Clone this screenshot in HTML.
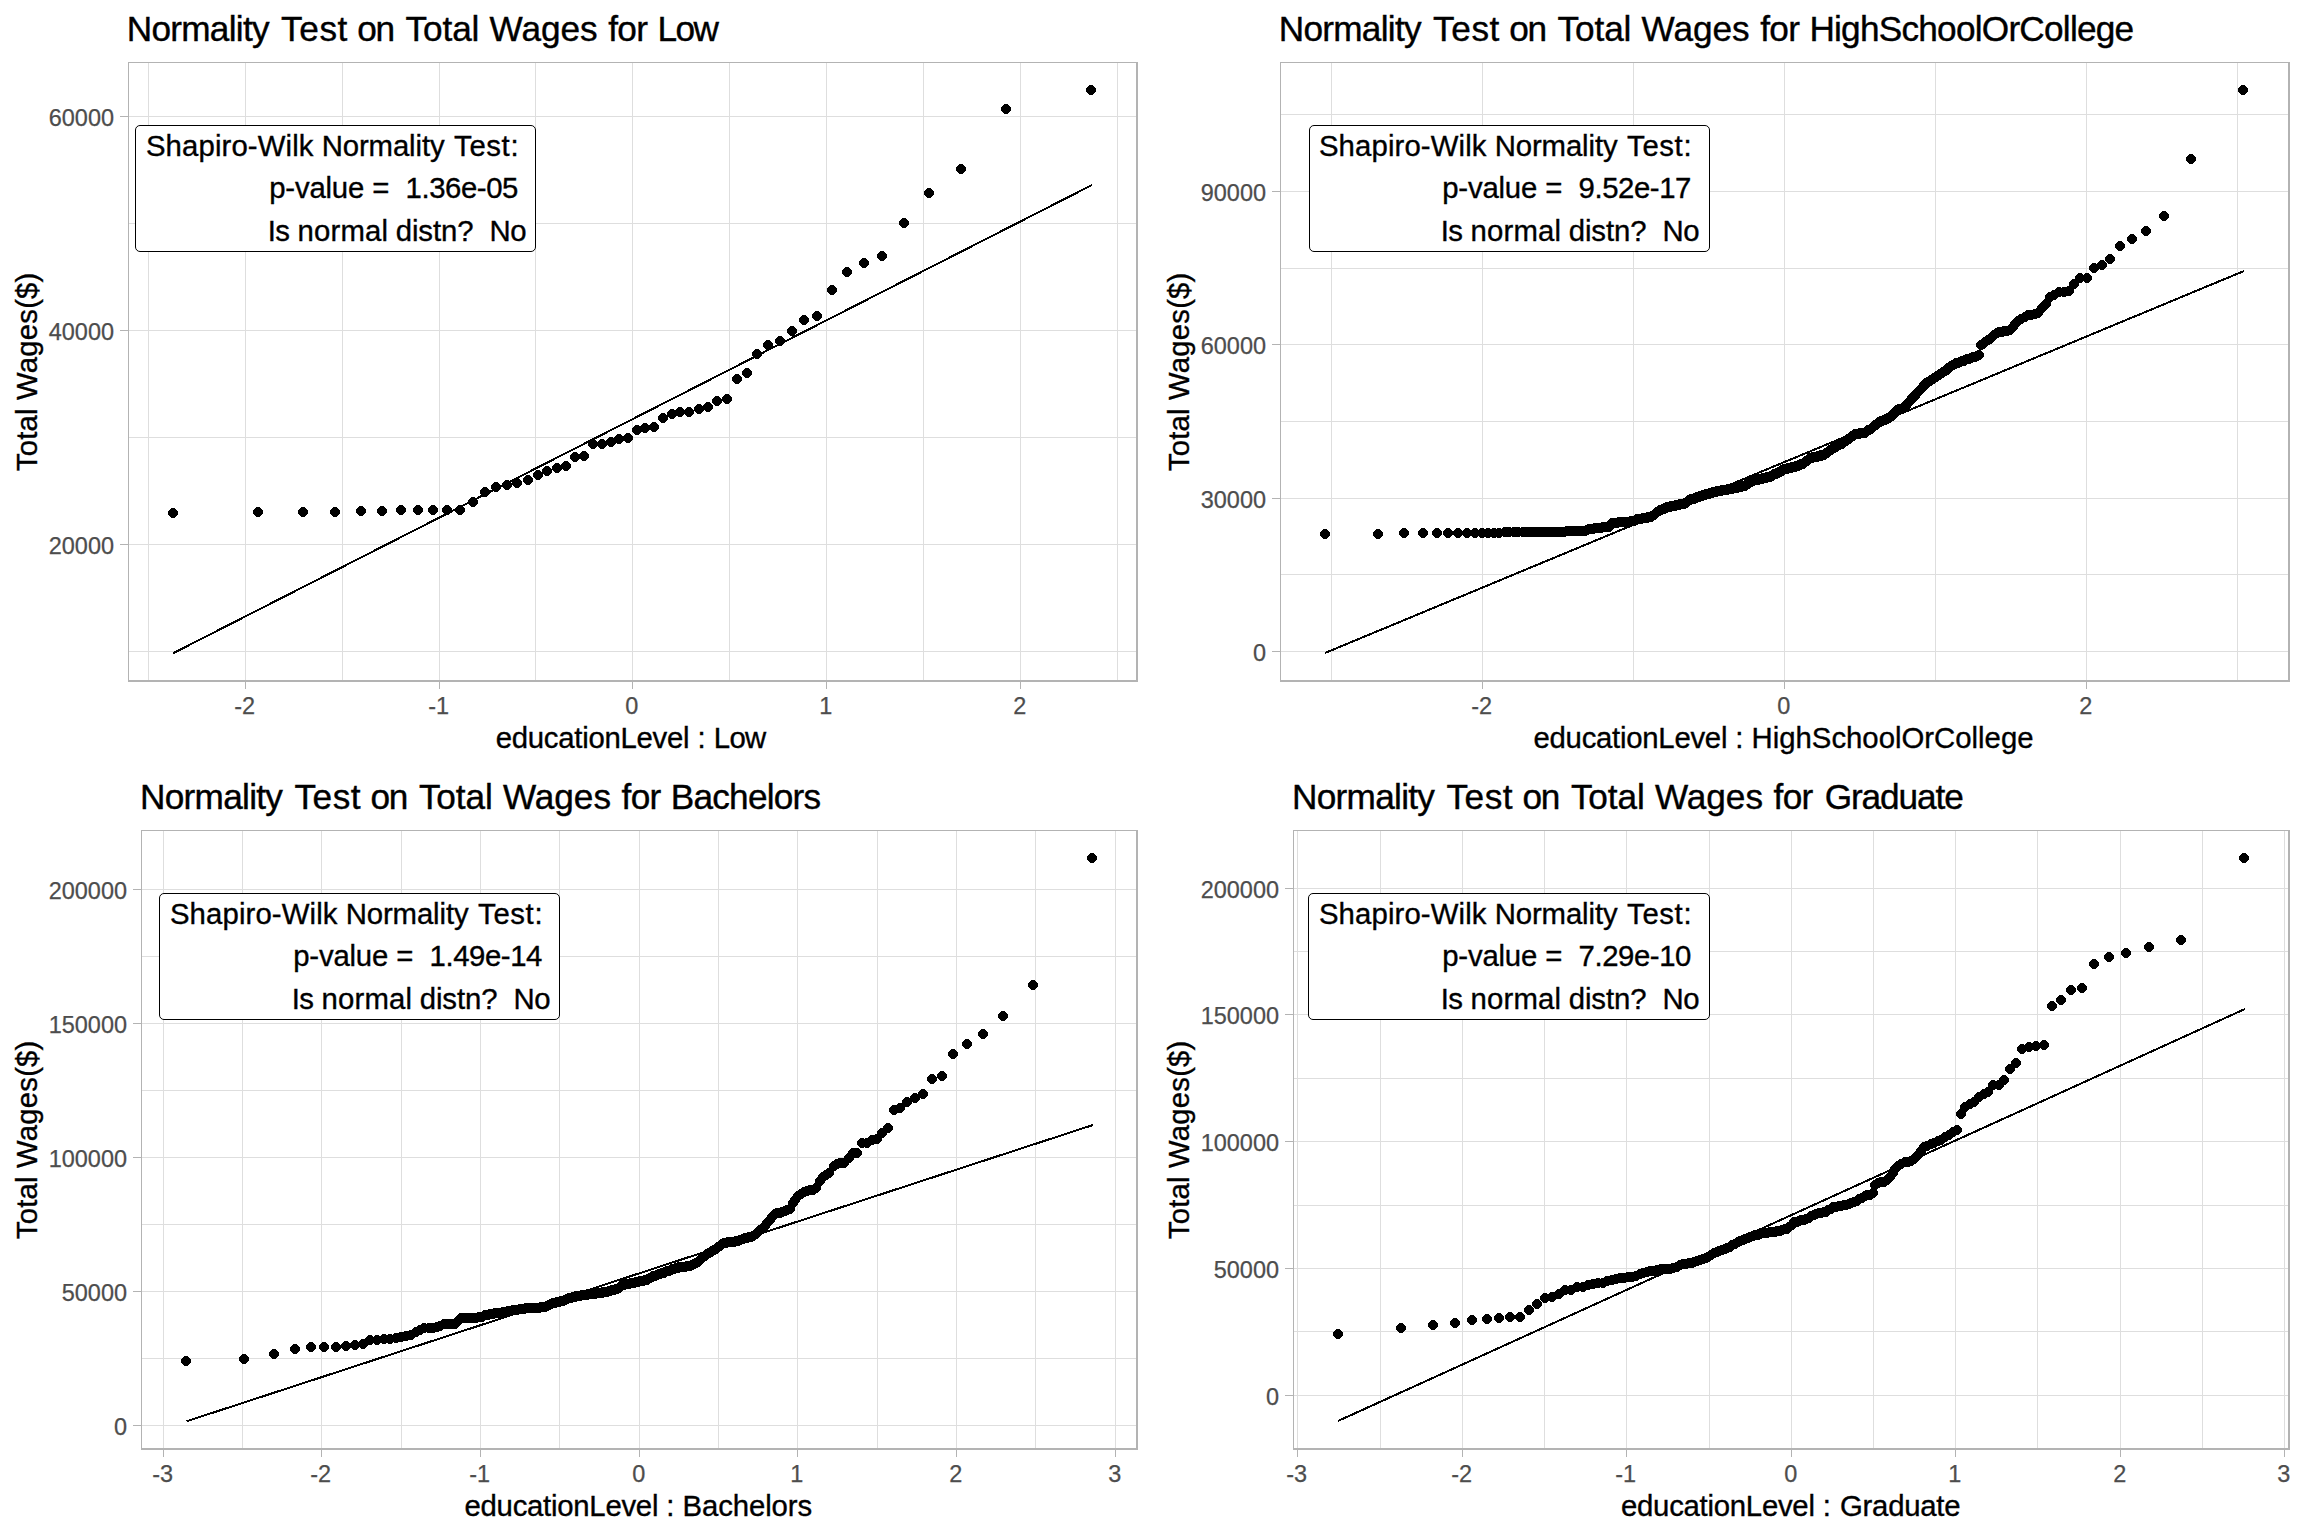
<!DOCTYPE html>
<html lang="en"><head><meta charset="utf-8"><title>Normality Test on Total Wages</title>
<style>html,body{margin:0;padding:0;background:#fff}svg{display:block}text{font-family:"Liberation Sans",Arial,sans-serif}.t{font-size:35.2px;fill:#000;stroke:#000;stroke-width:.4px}.a{font-size:29.33px;fill:#000;stroke:#000;stroke-width:.35px}.k{font-size:23.47px;fill:#4d4d4d;stroke:#4d4d4d;stroke-width:.25px}.l{font-size:29.33px;fill:#000;stroke:#000;stroke-width:.35px}.g{stroke:#dedede;stroke-width:1;shape-rendering:crispEdges}.b{fill:#b3b3b3;shape-rendering:crispEdges}.p{fill:#000;shape-rendering:crispEdges}.ln{stroke:#000;stroke-width:2.0;fill:none;shape-rendering:crispEdges}</style></head><body>
<svg xmlns="http://www.w3.org/2000/svg" width="2304" height="1536" viewBox="0 0 2304 1536">
<rect width="2304" height="1536" fill="#fff"/>
<defs><path id="o" d="M3 0h4v1h1v1h1v1h1v4h-1v1h-1v1h-1v1h-4v-1h-1v-1h-1v-1h-1v-4h1v-1h1v-1h1z"/></defs>
<g>
<path class="g" d="M148.5 62 V682 M245.5 62 V682 M342.5 62 V682 M439.5 62 V682 M535.5 62 V682 M632.5 62 V682 M729.5 62 V682 M826.5 62 V682 M923.5 62 V682 M1020.5 62 V682 M1117.5 62 V682 M128 651.5 H1138 M128 544.5 H1138 M128 437.5 H1138 M128 330.5 H1138 M128 223.5 H1138 M128 116.5 H1138"/>
<g class="p">
<use href="#o" x="168" y="508"/>
<use href="#o" x="253" y="507"/>
<use href="#o" x="298" y="507"/>
<use href="#o" x="330" y="507"/>
<use href="#o" x="356" y="506"/>
<use href="#o" x="377" y="506"/>
<use href="#o" x="396" y="505"/>
<use href="#o" x="413" y="505"/>
<use href="#o" x="428" y="505"/>
<use href="#o" x="442" y="505"/>
<use href="#o" x="455" y="505"/>
<use href="#o" x="468" y="497"/>
<use href="#o" x="480" y="487"/>
<use href="#o" x="491" y="482"/>
<use href="#o" x="502" y="480"/>
<use href="#o" x="512" y="478"/>
<use href="#o" x="523" y="475"/>
<use href="#o" x="533" y="470"/>
<use href="#o" x="542" y="466"/>
<use href="#o" x="552" y="463"/>
<use href="#o" x="561" y="461"/>
<use href="#o" x="570" y="452"/>
<use href="#o" x="579" y="451"/>
<use href="#o" x="588" y="439"/>
<use href="#o" x="597" y="439"/>
<use href="#o" x="606" y="437"/>
<use href="#o" x="614" y="434"/>
<use href="#o" x="623" y="433"/>
<use href="#o" x="632" y="425"/>
<use href="#o" x="640" y="423"/>
<use href="#o" x="649" y="422"/>
<use href="#o" x="658" y="413"/>
<use href="#o" x="667" y="409"/>
<use href="#o" x="675" y="407"/>
<use href="#o" x="684" y="407"/>
<use href="#o" x="694" y="404"/>
<use href="#o" x="703" y="402"/>
<use href="#o" x="712" y="396"/>
<use href="#o" x="722" y="394"/>
<use href="#o" x="732" y="374"/>
<use href="#o" x="742" y="368"/>
<use href="#o" x="752" y="349"/>
<use href="#o" x="763" y="340"/>
<use href="#o" x="775" y="336"/>
<use href="#o" x="787" y="326"/>
<use href="#o" x="799" y="315"/>
<use href="#o" x="812" y="311"/>
<use href="#o" x="827" y="285"/>
<use href="#o" x="842" y="267"/>
<use href="#o" x="859" y="258"/>
<use href="#o" x="877" y="251"/>
<use href="#o" x="899" y="218"/>
<use href="#o" x="924" y="188"/>
<use href="#o" x="956" y="164"/>
<use href="#o" x="1001" y="104"/>
<use href="#o" x="1086" y="85"/>
</g>
<path class="ln" d="M173.2 653.2 L1092.0 185.0"/>
<rect x="135.5" y="125.5" width="400" height="126" rx="4.5" ry="4.5" fill="#fff" stroke="#000" stroke-width="1"/>
<text class="l" y="156.00"><tspan x="145.90" letter-spacing="0.127">Shapiro-Wilk</tspan> <tspan x="321.70" letter-spacing="-0.113">Normality</tspan> <tspan x="454.10" letter-spacing="0.625">Test:</tspan></text>
<text class="l" y="197.90"><tspan x="269.20" letter-spacing="-0.183">p-value</tspan> <tspan x="372.30" letter-spacing="0.000">=</tspan> <tspan x="405.60" letter-spacing="-0.429">1.36e-05</tspan></text>
<text class="l" y="241.00"><tspan x="267.70" letter-spacing="-0.600">Is</tspan> <tspan x="297.50" letter-spacing="0.180">normal</tspan> <tspan x="395.70" letter-spacing="-0.080">distn?</tspan> <tspan x="489.50" letter-spacing="-0.400">No</tspan></text>
<path class="b" d="M128 62 h1010 v620 h-1010 z M129 63 v617 h1007 v-617 z" fill-rule="evenodd"/>
<path class="b" d="M245 682 h1 v7 h-1z M439 682 h1 v7 h-1z M632 682 h1 v7 h-1z M826 682 h1 v7 h-1z M1020 682 h1 v7 h-1z M120 544 h8 v1 h-8z M120 330 h8 v1 h-8z M120 116 h8 v1 h-8z"/>
<text class="k" text-anchor="middle" x="244.7" y="713.75">-2</text>
<text class="k" text-anchor="middle" x="438.7" y="713.75">-1</text>
<text class="k" text-anchor="middle" x="631.7" y="713.75">0</text>
<text class="k" text-anchor="middle" x="825.7" y="713.75">1</text>
<text class="k" text-anchor="middle" x="1019.7" y="713.75">2</text>
<text class="k" text-anchor="end" x="114.0" y="554.0">20000</text>
<text class="k" text-anchor="end" x="114.0" y="340.0">40000</text>
<text class="k" text-anchor="end" x="114.0" y="126.0">60000</text>
<text class="t" y="41.20"><tspan x="126.70" letter-spacing="-0.712">Normality</tspan> <tspan x="281.10" letter-spacing="0.567">Test</tspan> <tspan x="357.20" letter-spacing="-1.300">on</tspan> <tspan x="405.60" letter-spacing="-0.125">Total</tspan> <tspan x="489.60" letter-spacing="-0.025">Wages</tspan> <tspan x="608.30" letter-spacing="-0.700">for</tspan> <tspan x="657.40" letter-spacing="-1.500">Low</tspan></text>
<text class="a" y="748.00"><tspan x="495.70" letter-spacing="-0.262">educationLevel</tspan> <tspan x="697.40" letter-spacing="0.000">:</tspan> <tspan x="713.70" letter-spacing="-0.600">Low</tspan></text>
<text class="a" text-anchor="middle" letter-spacing="0.185" transform="translate(36.6 371.8) rotate(-90)">Total Wages($)</text>
</g>
<g>
<path class="g" d="M1331.5 62 V682 M1482.5 62 V682 M1633.5 62 V682 M1784.5 62 V682 M1935.5 62 V682 M2086.5 62 V682 M2237.5 62 V682 M1280 651.5 H2290 M1280 574.5 H2290 M1280 498.5 H2290 M1280 421.5 H2290 M1280 344.5 H2290 M1280 268.5 H2290 M1280 191.5 H2290 M1280 114.5 H2290"/>
<g class="p">
<use href="#o" x="1320" y="529"/>
<use href="#o" x="1373" y="529"/>
<use href="#o" x="1399" y="528"/>
<use href="#o" x="1418" y="528"/>
<use href="#o" x="1432" y="528"/>
<use href="#o" x="1443" y="528"/>
<use href="#o" x="1453" y="528"/>
<use href="#o" x="1462" y="528"/>
<use href="#o" x="1470" y="528"/>
<use href="#o" x="1477" y="528"/>
<use href="#o" x="1483" y="528"/>
<use href="#o" x="1489" y="528"/>
<use href="#o" x="1494" y="528"/>
<use href="#o" x="1500" y="527"/>
<use href="#o" x="1504" y="527"/>
<use href="#o" x="1509" y="527"/>
<use href="#o" x="1513" y="527"/>
<use href="#o" x="1518" y="527"/>
<use href="#o" x="1521" y="527"/>
<use href="#o" x="1525" y="527"/>
<use href="#o" x="1529" y="527"/>
<use href="#o" x="1532" y="527"/>
<use href="#o" x="1536" y="527"/>
<use href="#o" x="1539" y="527"/>
<use href="#o" x="1542" y="527"/>
<use href="#o" x="1545" y="527"/>
<use href="#o" x="1548" y="527"/>
<use href="#o" x="1551" y="527"/>
<use href="#o" x="1554" y="527"/>
<use href="#o" x="1556" y="527"/>
<use href="#o" x="1559" y="527"/>
<use href="#o" x="1562" y="526"/>
<use href="#o" x="1564" y="526"/>
<use href="#o" x="1567" y="526"/>
<use href="#o" x="1569" y="526"/>
<use href="#o" x="1571" y="526"/>
<use href="#o" x="1574" y="526"/>
<use href="#o" x="1576" y="526"/>
<use href="#o" x="1578" y="526"/>
<use href="#o" x="1580" y="526"/>
<use href="#o" x="1582" y="525"/>
<use href="#o" x="1584" y="524"/>
<use href="#o" x="1586" y="524"/>
<use href="#o" x="1588" y="524"/>
<use href="#o" x="1590" y="523"/>
<use href="#o" x="1592" y="523"/>
<use href="#o" x="1594" y="523"/>
<use href="#o" x="1596" y="523"/>
<use href="#o" x="1598" y="522"/>
<use href="#o" x="1600" y="522"/>
<use href="#o" x="1602" y="522"/>
<use href="#o" x="1604" y="522"/>
<use href="#o" x="1605" y="520"/>
<use href="#o" x="1607" y="518"/>
<use href="#o" x="1609" y="518"/>
<use href="#o" x="1610" y="518"/>
<use href="#o" x="1612" y="518"/>
<use href="#o" x="1614" y="517"/>
<use href="#o" x="1615" y="517"/>
<use href="#o" x="1617" y="517"/>
<use href="#o" x="1619" y="517"/>
<use href="#o" x="1620" y="517"/>
<use href="#o" x="1622" y="517"/>
<use href="#o" x="1623" y="517"/>
<use href="#o" x="1625" y="517"/>
<use href="#o" x="1626" y="516"/>
<use href="#o" x="1628" y="516"/>
<use href="#o" x="1629" y="516"/>
<use href="#o" x="1631" y="515"/>
<use href="#o" x="1632" y="514"/>
<use href="#o" x="1634" y="514"/>
<use href="#o" x="1635" y="514"/>
<use href="#o" x="1636" y="514"/>
<use href="#o" x="1638" y="513"/>
<use href="#o" x="1639" y="513"/>
<use href="#o" x="1641" y="513"/>
<use href="#o" x="1642" y="513"/>
<use href="#o" x="1643" y="512"/>
<use href="#o" x="1645" y="512"/>
<use href="#o" x="1646" y="512"/>
<use href="#o" x="1647" y="511"/>
<use href="#o" x="1649" y="510"/>
<use href="#o" x="1650" y="509"/>
<use href="#o" x="1651" y="508"/>
<use href="#o" x="1652" y="507"/>
<use href="#o" x="1654" y="506"/>
<use href="#o" x="1655" y="505"/>
<use href="#o" x="1656" y="505"/>
<use href="#o" x="1658" y="504"/>
<use href="#o" x="1659" y="504"/>
<use href="#o" x="1660" y="503"/>
<use href="#o" x="1661" y="503"/>
<use href="#o" x="1662" y="502"/>
<use href="#o" x="1664" y="502"/>
<use href="#o" x="1665" y="502"/>
<use href="#o" x="1666" y="501"/>
<use href="#o" x="1667" y="501"/>
<use href="#o" x="1668" y="501"/>
<use href="#o" x="1670" y="501"/>
<use href="#o" x="1671" y="500"/>
<use href="#o" x="1672" y="500"/>
<use href="#o" x="1673" y="500"/>
<use href="#o" x="1674" y="500"/>
<use href="#o" x="1675" y="499"/>
<use href="#o" x="1677" y="499"/>
<use href="#o" x="1678" y="499"/>
<use href="#o" x="1679" y="499"/>
<use href="#o" x="1680" y="498"/>
<use href="#o" x="1681" y="498"/>
<use href="#o" x="1682" y="497"/>
<use href="#o" x="1683" y="496"/>
<use href="#o" x="1684" y="495"/>
<use href="#o" x="1685" y="495"/>
<use href="#o" x="1686" y="494"/>
<use href="#o" x="1688" y="494"/>
<use href="#o" x="1689" y="494"/>
<use href="#o" x="1690" y="493"/>
<use href="#o" x="1691" y="493"/>
<use href="#o" x="1692" y="492"/>
<use href="#o" x="1693" y="492"/>
<use href="#o" x="1694" y="492"/>
<use href="#o" x="1695" y="491"/>
<use href="#o" x="1696" y="491"/>
<use href="#o" x="1697" y="491"/>
<use href="#o" x="1698" y="490"/>
<use href="#o" x="1699" y="490"/>
<use href="#o" x="1700" y="490"/>
<use href="#o" x="1701" y="489"/>
<use href="#o" x="1702" y="489"/>
<use href="#o" x="1703" y="489"/>
<use href="#o" x="1704" y="489"/>
<use href="#o" x="1705" y="488"/>
<use href="#o" x="1706" y="488"/>
<use href="#o" x="1707" y="488"/>
<use href="#o" x="1708" y="487"/>
<use href="#o" x="1709" y="487"/>
<use href="#o" x="1710" y="487"/>
<use href="#o" x="1711" y="487"/>
<use href="#o" x="1712" y="486"/>
<use href="#o" x="1713" y="486"/>
<use href="#o" x="1714" y="486"/>
<use href="#o" x="1715" y="486"/>
<use href="#o" x="1716" y="486"/>
<use href="#o" x="1717" y="485"/>
<use href="#o" x="1718" y="485"/>
<use href="#o" x="1719" y="485"/>
<use href="#o" x="1720" y="485"/>
<use href="#o" x="1721" y="485"/>
<use href="#o" x="1722" y="485"/>
<use href="#o" x="1723" y="484"/>
<use href="#o" x="1724" y="484"/>
<use href="#o" x="1725" y="484"/>
<use href="#o" x="1726" y="484"/>
<use href="#o" x="1727" y="484"/>
<use href="#o" x="1728" y="483"/>
<use href="#o" x="1729" y="483"/>
<use href="#o" x="1730" y="483"/>
<use href="#o" x="1731" y="483"/>
<use href="#o" x="1732" y="483"/>
<use href="#o" x="1733" y="482"/>
<use href="#o" x="1734" y="482"/>
<use href="#o" x="1735" y="482"/>
<use href="#o" x="1736" y="482"/>
<use href="#o" x="1737" y="481"/>
<use href="#o" x="1738" y="481"/>
<use href="#o" x="1739" y="481"/>
<use href="#o" x="1740" y="481"/>
<use href="#o" x="1741" y="480"/>
<use href="#o" x="1742" y="479"/>
<use href="#o" x="1743" y="479"/>
<use href="#o" x="1744" y="478"/>
<use href="#o" x="1745" y="477"/>
<use href="#o" x="1746" y="477"/>
<use href="#o" x="1747" y="476"/>
<use href="#o" x="1748" y="476"/>
<use href="#o" x="1749" y="475"/>
<use href="#o" x="1750" y="475"/>
<use href="#o" x="1751" y="475"/>
<use href="#o" x="1752" y="475"/>
<use href="#o" x="1753" y="475"/>
<use href="#o" x="1754" y="474"/>
<use href="#o" x="1755" y="474"/>
<use href="#o" x="1756" y="474"/>
<use href="#o" x="1757" y="474"/>
<use href="#o" x="1758" y="473"/>
<use href="#o" x="1759" y="473"/>
<use href="#o" x="1760" y="473"/>
<use href="#o" x="1761" y="473"/>
<use href="#o" x="1762" y="472"/>
<use href="#o" x="1763" y="472"/>
<use href="#o" x="1764" y="472"/>
<use href="#o" x="1765" y="472"/>
<use href="#o" x="1766" y="471"/>
<use href="#o" x="1767" y="471"/>
<use href="#o" x="1768" y="470"/>
<use href="#o" x="1769" y="469"/>
<use href="#o" x="1770" y="469"/>
<use href="#o" x="1771" y="469"/>
<use href="#o" x="1772" y="468"/>
<use href="#o" x="1773" y="468"/>
<use href="#o" x="1774" y="467"/>
<use href="#o" x="1775" y="467"/>
<use href="#o" x="1776" y="466"/>
<use href="#o" x="1777" y="466"/>
<use href="#o" x="1777" y="465"/>
<use href="#o" x="1778" y="465"/>
<use href="#o" x="1779" y="464"/>
<use href="#o" x="1780" y="464"/>
<use href="#o" x="1781" y="464"/>
<use href="#o" x="1782" y="464"/>
<use href="#o" x="1783" y="463"/>
<use href="#o" x="1784" y="463"/>
<use href="#o" x="1785" y="463"/>
<use href="#o" x="1786" y="463"/>
<use href="#o" x="1787" y="462"/>
<use href="#o" x="1788" y="462"/>
<use href="#o" x="1789" y="462"/>
<use href="#o" x="1790" y="462"/>
<use href="#o" x="1791" y="461"/>
<use href="#o" x="1792" y="461"/>
<use href="#o" x="1793" y="461"/>
<use href="#o" x="1794" y="460"/>
<use href="#o" x="1795" y="460"/>
<use href="#o" x="1796" y="459"/>
<use href="#o" x="1797" y="459"/>
<use href="#o" x="1798" y="459"/>
<use href="#o" x="1799" y="458"/>
<use href="#o" x="1800" y="457"/>
<use href="#o" x="1801" y="456"/>
<use href="#o" x="1802" y="456"/>
<use href="#o" x="1803" y="455"/>
<use href="#o" x="1804" y="454"/>
<use href="#o" x="1805" y="453"/>
<use href="#o" x="1806" y="453"/>
<use href="#o" x="1807" y="453"/>
<use href="#o" x="1808" y="452"/>
<use href="#o" x="1809" y="452"/>
<use href="#o" x="1810" y="452"/>
<use href="#o" x="1811" y="452"/>
<use href="#o" x="1812" y="452"/>
<use href="#o" x="1813" y="451"/>
<use href="#o" x="1814" y="451"/>
<use href="#o" x="1815" y="451"/>
<use href="#o" x="1816" y="451"/>
<use href="#o" x="1816" y="450"/>
<use href="#o" x="1817" y="450"/>
<use href="#o" x="1818" y="450"/>
<use href="#o" x="1819" y="450"/>
<use href="#o" x="1820" y="449"/>
<use href="#o" x="1821" y="448"/>
<use href="#o" x="1822" y="448"/>
<use href="#o" x="1823" y="447"/>
<use href="#o" x="1824" y="446"/>
<use href="#o" x="1825" y="445"/>
<use href="#o" x="1826" y="445"/>
<use href="#o" x="1827" y="444"/>
<use href="#o" x="1828" y="443"/>
<use href="#o" x="1829" y="443"/>
<use href="#o" x="1830" y="442"/>
<use href="#o" x="1831" y="442"/>
<use href="#o" x="1832" y="441"/>
<use href="#o" x="1833" y="440"/>
<use href="#o" x="1834" y="440"/>
<use href="#o" x="1835" y="439"/>
<use href="#o" x="1836" y="439"/>
<use href="#o" x="1837" y="439"/>
<use href="#o" x="1838" y="438"/>
<use href="#o" x="1839" y="437"/>
<use href="#o" x="1840" y="436"/>
<use href="#o" x="1841" y="436"/>
<use href="#o" x="1842" y="435"/>
<use href="#o" x="1843" y="434"/>
<use href="#o" x="1844" y="434"/>
<use href="#o" x="1845" y="433"/>
<use href="#o" x="1846" y="432"/>
<use href="#o" x="1847" y="431"/>
<use href="#o" x="1848" y="431"/>
<use href="#o" x="1849" y="430"/>
<use href="#o" x="1850" y="429"/>
<use href="#o" x="1851" y="429"/>
<use href="#o" x="1852" y="429"/>
<use href="#o" x="1853" y="429"/>
<use href="#o" x="1854" y="429"/>
<use href="#o" x="1855" y="428"/>
<use href="#o" x="1856" y="428"/>
<use href="#o" x="1857" y="428"/>
<use href="#o" x="1858" y="428"/>
<use href="#o" x="1859" y="428"/>
<use href="#o" x="1860" y="428"/>
<use href="#o" x="1861" y="427"/>
<use href="#o" x="1862" y="426"/>
<use href="#o" x="1863" y="425"/>
<use href="#o" x="1864" y="425"/>
<use href="#o" x="1866" y="424"/>
<use href="#o" x="1867" y="423"/>
<use href="#o" x="1868" y="422"/>
<use href="#o" x="1869" y="421"/>
<use href="#o" x="1870" y="420"/>
<use href="#o" x="1871" y="420"/>
<use href="#o" x="1872" y="419"/>
<use href="#o" x="1873" y="418"/>
<use href="#o" x="1874" y="417"/>
<use href="#o" x="1875" y="417"/>
<use href="#o" x="1876" y="416"/>
<use href="#o" x="1877" y="416"/>
<use href="#o" x="1879" y="415"/>
<use href="#o" x="1880" y="415"/>
<use href="#o" x="1881" y="414"/>
<use href="#o" x="1882" y="414"/>
<use href="#o" x="1883" y="413"/>
<use href="#o" x="1884" y="413"/>
<use href="#o" x="1885" y="412"/>
<use href="#o" x="1887" y="411"/>
<use href="#o" x="1888" y="410"/>
<use href="#o" x="1889" y="408"/>
<use href="#o" x="1890" y="407"/>
<use href="#o" x="1891" y="406"/>
<use href="#o" x="1892" y="405"/>
<use href="#o" x="1894" y="404"/>
<use href="#o" x="1895" y="404"/>
<use href="#o" x="1896" y="404"/>
<use href="#o" x="1897" y="404"/>
<use href="#o" x="1898" y="403"/>
<use href="#o" x="1900" y="402"/>
<use href="#o" x="1901" y="401"/>
<use href="#o" x="1902" y="399"/>
<use href="#o" x="1903" y="398"/>
<use href="#o" x="1905" y="396"/>
<use href="#o" x="1906" y="395"/>
<use href="#o" x="1907" y="393"/>
<use href="#o" x="1909" y="392"/>
<use href="#o" x="1910" y="391"/>
<use href="#o" x="1911" y="389"/>
<use href="#o" x="1912" y="388"/>
<use href="#o" x="1914" y="386"/>
<use href="#o" x="1915" y="385"/>
<use href="#o" x="1917" y="383"/>
<use href="#o" x="1918" y="382"/>
<use href="#o" x="1919" y="380"/>
<use href="#o" x="1921" y="378"/>
<use href="#o" x="1922" y="378"/>
<use href="#o" x="1923" y="377"/>
<use href="#o" x="1925" y="376"/>
<use href="#o" x="1926" y="375"/>
<use href="#o" x="1928" y="374"/>
<use href="#o" x="1929" y="373"/>
<use href="#o" x="1931" y="372"/>
<use href="#o" x="1932" y="371"/>
<use href="#o" x="1934" y="370"/>
<use href="#o" x="1935" y="369"/>
<use href="#o" x="1937" y="368"/>
<use href="#o" x="1938" y="367"/>
<use href="#o" x="1940" y="366"/>
<use href="#o" x="1942" y="365"/>
<use href="#o" x="1943" y="363"/>
<use href="#o" x="1945" y="362"/>
<use href="#o" x="1946" y="361"/>
<use href="#o" x="1948" y="360"/>
<use href="#o" x="1950" y="359"/>
<use href="#o" x="1951" y="358"/>
<use href="#o" x="1953" y="358"/>
<use href="#o" x="1955" y="357"/>
<use href="#o" x="1957" y="356"/>
<use href="#o" x="1959" y="356"/>
<use href="#o" x="1960" y="355"/>
<use href="#o" x="1962" y="354"/>
<use href="#o" x="1964" y="354"/>
<use href="#o" x="1966" y="353"/>
<use href="#o" x="1968" y="352"/>
<use href="#o" x="1970" y="352"/>
<use href="#o" x="1972" y="351"/>
<use href="#o" x="1974" y="350"/>
<use href="#o" x="1976" y="340"/>
<use href="#o" x="1978" y="339"/>
<use href="#o" x="1980" y="337"/>
<use href="#o" x="1983" y="335"/>
<use href="#o" x="1985" y="334"/>
<use href="#o" x="1987" y="332"/>
<use href="#o" x="1989" y="330"/>
<use href="#o" x="1992" y="328"/>
<use href="#o" x="1994" y="327"/>
<use href="#o" x="1997" y="327"/>
<use href="#o" x="1999" y="326"/>
<use href="#o" x="2002" y="326"/>
<use href="#o" x="2005" y="325"/>
<use href="#o" x="2008" y="322"/>
<use href="#o" x="2010" y="319"/>
<use href="#o" x="2013" y="316"/>
<use href="#o" x="2016" y="314"/>
<use href="#o" x="2020" y="312"/>
<use href="#o" x="2023" y="310"/>
<use href="#o" x="2026" y="310"/>
<use href="#o" x="2030" y="309"/>
<use href="#o" x="2033" y="308"/>
<use href="#o" x="2037" y="303"/>
<use href="#o" x="2041" y="299"/>
<use href="#o" x="2045" y="292"/>
<use href="#o" x="2049" y="290"/>
<use href="#o" x="2054" y="287"/>
<use href="#o" x="2059" y="287"/>
<use href="#o" x="2064" y="286"/>
<use href="#o" x="2069" y="279"/>
<use href="#o" x="2075" y="273"/>
<use href="#o" x="2082" y="273"/>
<use href="#o" x="2089" y="263"/>
<use href="#o" x="2097" y="260"/>
<use href="#o" x="2105" y="254"/>
<use href="#o" x="2115" y="241"/>
<use href="#o" x="2127" y="234"/>
<use href="#o" x="2141" y="226"/>
<use href="#o" x="2159" y="211"/>
<use href="#o" x="2186" y="154"/>
<use href="#o" x="2238" y="85"/>
</g>
<path class="ln" d="M1325.0 653.0 L2244.0 271.0"/>
<rect x="1309.5" y="125.5" width="400" height="126" rx="4.5" ry="4.5" fill="#fff" stroke="#000" stroke-width="1"/>
<text class="l" y="156.00"><tspan x="1318.90" letter-spacing="0.127">Shapiro-Wilk</tspan> <tspan x="1494.70" letter-spacing="-0.113">Normality</tspan> <tspan x="1627.10" letter-spacing="0.625">Test:</tspan></text>
<text class="l" y="197.90"><tspan x="1442.20" letter-spacing="-0.183">p-value</tspan> <tspan x="1545.30" letter-spacing="0.000">=</tspan> <tspan x="1578.60" letter-spacing="-0.429">9.52e-17</tspan></text>
<text class="l" y="241.00"><tspan x="1440.70" letter-spacing="-0.600">Is</tspan> <tspan x="1470.50" letter-spacing="0.180">normal</tspan> <tspan x="1568.70" letter-spacing="-0.080">distn?</tspan> <tspan x="1662.50" letter-spacing="-0.400">No</tspan></text>
<path class="b" d="M1280 62 h1010 v620 h-1010 z M1281 63 v617 h1007 v-617 z" fill-rule="evenodd"/>
<path class="b" d="M1482 682 h1 v7 h-1z M1784 682 h1 v7 h-1z M2086 682 h1 v7 h-1z M1272 651 h8 v1 h-8z M1272 498 h8 v1 h-8z M1272 344 h8 v1 h-8z M1272 191 h8 v1 h-8z"/>
<text class="k" text-anchor="middle" x="1481.7" y="713.75">-2</text>
<text class="k" text-anchor="middle" x="1783.7" y="713.75">0</text>
<text class="k" text-anchor="middle" x="2085.7" y="713.75">2</text>
<text class="k" text-anchor="end" x="1266.0" y="661.0">0</text>
<text class="k" text-anchor="end" x="1266.0" y="508.0">30000</text>
<text class="k" text-anchor="end" x="1266.0" y="354.0">60000</text>
<text class="k" text-anchor="end" x="1266.0" y="201.0">90000</text>
<text class="t" y="41.20"><tspan x="1278.70" letter-spacing="-0.712">Normality</tspan> <tspan x="1433.10" letter-spacing="0.567">Test</tspan> <tspan x="1509.20" letter-spacing="-1.300">on</tspan> <tspan x="1557.60" letter-spacing="-0.125">Total</tspan> <tspan x="1641.60" letter-spacing="-0.025">Wages</tspan> <tspan x="1760.30" letter-spacing="-0.700">for</tspan> <tspan x="1809.40" letter-spacing="-0.756">HighSchoolOrCollege</tspan></text>
<text class="a" y="748.00"><tspan x="1533.50" letter-spacing="-0.262">educationLevel</tspan> <tspan x="1735.20" letter-spacing="0.000">:</tspan> <tspan x="1751.50" letter-spacing="0.000">HighSchoolOrCollege</tspan></text>
<text class="a" text-anchor="middle" letter-spacing="0.185" transform="translate(1188.6 371.8) rotate(-90)">Total Wages($)</text>
</g>
<g>
<path class="g" d="M163.5 830 V1450 M242.5 830 V1450 M321.5 830 V1450 M401.5 830 V1450 M480.5 830 V1450 M559.5 830 V1450 M639.5 830 V1450 M718.5 830 V1450 M797.5 830 V1450 M877.5 830 V1450 M956.5 830 V1450 M1035.5 830 V1450 M1115.5 830 V1450 M141 1425.5 H1138 M141 1358.5 H1138 M141 1291.5 H1138 M141 1224.5 H1138 M141 1157.5 H1138 M141 1090.5 H1138 M141 1023.5 H1138 M141 956.5 H1138 M141 889.5 H1138"/>
<g class="p">
<use href="#o" x="181" y="1356"/>
<use href="#o" x="239" y="1354"/>
<use href="#o" x="269" y="1349"/>
<use href="#o" x="290" y="1344"/>
<use href="#o" x="306" y="1342"/>
<use href="#o" x="319" y="1342"/>
<use href="#o" x="331" y="1342"/>
<use href="#o" x="341" y="1341"/>
<use href="#o" x="350" y="1340"/>
<use href="#o" x="358" y="1339"/>
<use href="#o" x="365" y="1335"/>
<use href="#o" x="372" y="1335"/>
<use href="#o" x="379" y="1334"/>
<use href="#o" x="385" y="1334"/>
<use href="#o" x="391" y="1333"/>
<use href="#o" x="396" y="1332"/>
<use href="#o" x="401" y="1331"/>
<use href="#o" x="406" y="1330"/>
<use href="#o" x="411" y="1327"/>
<use href="#o" x="415" y="1325"/>
<use href="#o" x="419" y="1323"/>
<use href="#o" x="424" y="1323"/>
<use href="#o" x="428" y="1323"/>
<use href="#o" x="432" y="1322"/>
<use href="#o" x="435" y="1321"/>
<use href="#o" x="439" y="1319"/>
<use href="#o" x="443" y="1319"/>
<use href="#o" x="446" y="1319"/>
<use href="#o" x="450" y="1319"/>
<use href="#o" x="453" y="1316"/>
<use href="#o" x="456" y="1313"/>
<use href="#o" x="459" y="1313"/>
<use href="#o" x="462" y="1313"/>
<use href="#o" x="466" y="1313"/>
<use href="#o" x="468" y="1313"/>
<use href="#o" x="471" y="1313"/>
<use href="#o" x="474" y="1312"/>
<use href="#o" x="477" y="1312"/>
<use href="#o" x="480" y="1310"/>
<use href="#o" x="483" y="1310"/>
<use href="#o" x="485" y="1309"/>
<use href="#o" x="488" y="1309"/>
<use href="#o" x="490" y="1308"/>
<use href="#o" x="493" y="1308"/>
<use href="#o" x="496" y="1308"/>
<use href="#o" x="498" y="1307"/>
<use href="#o" x="501" y="1307"/>
<use href="#o" x="503" y="1306"/>
<use href="#o" x="505" y="1306"/>
<use href="#o" x="508" y="1305"/>
<use href="#o" x="510" y="1305"/>
<use href="#o" x="512" y="1305"/>
<use href="#o" x="515" y="1304"/>
<use href="#o" x="517" y="1304"/>
<use href="#o" x="519" y="1304"/>
<use href="#o" x="521" y="1303"/>
<use href="#o" x="524" y="1303"/>
<use href="#o" x="526" y="1303"/>
<use href="#o" x="528" y="1303"/>
<use href="#o" x="530" y="1303"/>
<use href="#o" x="532" y="1303"/>
<use href="#o" x="534" y="1303"/>
<use href="#o" x="536" y="1302"/>
<use href="#o" x="538" y="1302"/>
<use href="#o" x="540" y="1302"/>
<use href="#o" x="542" y="1301"/>
<use href="#o" x="544" y="1300"/>
<use href="#o" x="546" y="1299"/>
<use href="#o" x="548" y="1298"/>
<use href="#o" x="550" y="1298"/>
<use href="#o" x="552" y="1297"/>
<use href="#o" x="554" y="1297"/>
<use href="#o" x="556" y="1296"/>
<use href="#o" x="558" y="1296"/>
<use href="#o" x="560" y="1295"/>
<use href="#o" x="562" y="1294"/>
<use href="#o" x="564" y="1293"/>
<use href="#o" x="566" y="1293"/>
<use href="#o" x="568" y="1292"/>
<use href="#o" x="570" y="1292"/>
<use href="#o" x="571" y="1291"/>
<use href="#o" x="573" y="1291"/>
<use href="#o" x="575" y="1291"/>
<use href="#o" x="577" y="1290"/>
<use href="#o" x="579" y="1290"/>
<use href="#o" x="581" y="1290"/>
<use href="#o" x="582" y="1290"/>
<use href="#o" x="584" y="1289"/>
<use href="#o" x="586" y="1289"/>
<use href="#o" x="588" y="1289"/>
<use href="#o" x="590" y="1289"/>
<use href="#o" x="591" y="1288"/>
<use href="#o" x="593" y="1288"/>
<use href="#o" x="595" y="1288"/>
<use href="#o" x="597" y="1288"/>
<use href="#o" x="598" y="1287"/>
<use href="#o" x="600" y="1287"/>
<use href="#o" x="602" y="1287"/>
<use href="#o" x="604" y="1286"/>
<use href="#o" x="605" y="1286"/>
<use href="#o" x="607" y="1285"/>
<use href="#o" x="609" y="1285"/>
<use href="#o" x="611" y="1284"/>
<use href="#o" x="612" y="1284"/>
<use href="#o" x="614" y="1283"/>
<use href="#o" x="616" y="1281"/>
<use href="#o" x="617" y="1280"/>
<use href="#o" x="619" y="1280"/>
<use href="#o" x="621" y="1279"/>
<use href="#o" x="623" y="1279"/>
<use href="#o" x="624" y="1279"/>
<use href="#o" x="626" y="1278"/>
<use href="#o" x="628" y="1278"/>
<use href="#o" x="629" y="1278"/>
<use href="#o" x="631" y="1277"/>
<use href="#o" x="633" y="1277"/>
<use href="#o" x="635" y="1276"/>
<use href="#o" x="636" y="1276"/>
<use href="#o" x="638" y="1276"/>
<use href="#o" x="640" y="1275"/>
<use href="#o" x="642" y="1275"/>
<use href="#o" x="643" y="1274"/>
<use href="#o" x="645" y="1273"/>
<use href="#o" x="647" y="1272"/>
<use href="#o" x="648" y="1271"/>
<use href="#o" x="650" y="1271"/>
<use href="#o" x="652" y="1270"/>
<use href="#o" x="654" y="1269"/>
<use href="#o" x="655" y="1269"/>
<use href="#o" x="657" y="1268"/>
<use href="#o" x="659" y="1268"/>
<use href="#o" x="660" y="1267"/>
<use href="#o" x="662" y="1266"/>
<use href="#o" x="664" y="1266"/>
<use href="#o" x="666" y="1265"/>
<use href="#o" x="667" y="1264"/>
<use href="#o" x="669" y="1264"/>
<use href="#o" x="671" y="1263"/>
<use href="#o" x="673" y="1263"/>
<use href="#o" x="674" y="1262"/>
<use href="#o" x="676" y="1262"/>
<use href="#o" x="678" y="1262"/>
<use href="#o" x="680" y="1262"/>
<use href="#o" x="682" y="1261"/>
<use href="#o" x="683" y="1261"/>
<use href="#o" x="685" y="1261"/>
<use href="#o" x="687" y="1260"/>
<use href="#o" x="689" y="1259"/>
<use href="#o" x="691" y="1258"/>
<use href="#o" x="693" y="1257"/>
<use href="#o" x="694" y="1256"/>
<use href="#o" x="696" y="1254"/>
<use href="#o" x="698" y="1252"/>
<use href="#o" x="700" y="1251"/>
<use href="#o" x="702" y="1249"/>
<use href="#o" x="704" y="1248"/>
<use href="#o" x="706" y="1247"/>
<use href="#o" x="707" y="1246"/>
<use href="#o" x="709" y="1245"/>
<use href="#o" x="711" y="1244"/>
<use href="#o" x="713" y="1242"/>
<use href="#o" x="715" y="1241"/>
<use href="#o" x="717" y="1239"/>
<use href="#o" x="719" y="1238"/>
<use href="#o" x="721" y="1238"/>
<use href="#o" x="723" y="1237"/>
<use href="#o" x="725" y="1237"/>
<use href="#o" x="727" y="1237"/>
<use href="#o" x="729" y="1237"/>
<use href="#o" x="731" y="1236"/>
<use href="#o" x="733" y="1236"/>
<use href="#o" x="735" y="1235"/>
<use href="#o" x="738" y="1234"/>
<use href="#o" x="740" y="1233"/>
<use href="#o" x="742" y="1233"/>
<use href="#o" x="744" y="1232"/>
<use href="#o" x="746" y="1232"/>
<use href="#o" x="748" y="1231"/>
<use href="#o" x="751" y="1229"/>
<use href="#o" x="753" y="1227"/>
<use href="#o" x="755" y="1225"/>
<use href="#o" x="758" y="1223"/>
<use href="#o" x="760" y="1221"/>
<use href="#o" x="762" y="1218"/>
<use href="#o" x="765" y="1215"/>
<use href="#o" x="767" y="1212"/>
<use href="#o" x="770" y="1209"/>
<use href="#o" x="772" y="1208"/>
<use href="#o" x="775" y="1208"/>
<use href="#o" x="777" y="1207"/>
<use href="#o" x="780" y="1206"/>
<use href="#o" x="782" y="1205"/>
<use href="#o" x="785" y="1204"/>
<use href="#o" x="788" y="1198"/>
<use href="#o" x="790" y="1195"/>
<use href="#o" x="793" y="1191"/>
<use href="#o" x="796" y="1189"/>
<use href="#o" x="799" y="1187"/>
<use href="#o" x="802" y="1186"/>
<use href="#o" x="805" y="1185"/>
<use href="#o" x="808" y="1185"/>
<use href="#o" x="811" y="1183"/>
<use href="#o" x="815" y="1176"/>
<use href="#o" x="818" y="1172"/>
<use href="#o" x="821" y="1170"/>
<use href="#o" x="824" y="1168"/>
<use href="#o" x="829" y="1161"/>
<use href="#o" x="832" y="1159"/>
<use href="#o" x="835" y="1158"/>
<use href="#o" x="839" y="1158"/>
<use href="#o" x="844" y="1153"/>
<use href="#o" x="848" y="1148"/>
<use href="#o" x="852" y="1148"/>
<use href="#o" x="857" y="1138"/>
<use href="#o" x="862" y="1138"/>
<use href="#o" x="867" y="1135"/>
<use href="#o" x="872" y="1134"/>
<use href="#o" x="877" y="1128"/>
<use href="#o" x="883" y="1123"/>
<use href="#o" x="889" y="1105"/>
<use href="#o" x="895" y="1103"/>
<use href="#o" x="902" y="1097"/>
<use href="#o" x="910" y="1093"/>
<use href="#o" x="918" y="1089"/>
<use href="#o" x="927" y="1074"/>
<use href="#o" x="937" y="1071"/>
<use href="#o" x="948" y="1049"/>
<use href="#o" x="962" y="1039"/>
<use href="#o" x="978" y="1029"/>
<use href="#o" x="998" y="1011"/>
<use href="#o" x="1028" y="980"/>
<use href="#o" x="1087" y="853"/>
</g>
<path class="ln" d="M186.5 1421.3 L1093.0 1125.0"/>
<rect x="159.5" y="893.5" width="400" height="126" rx="4.5" ry="4.5" fill="#fff" stroke="#000" stroke-width="1"/>
<text class="l" y="924.00"><tspan x="169.90" letter-spacing="0.127">Shapiro-Wilk</tspan> <tspan x="345.70" letter-spacing="-0.113">Normality</tspan> <tspan x="478.10" letter-spacing="0.625">Test:</tspan></text>
<text class="l" y="965.90"><tspan x="293.20" letter-spacing="-0.183">p-value</tspan> <tspan x="396.30" letter-spacing="0.000">=</tspan> <tspan x="429.60" letter-spacing="-0.429">1.49e-14</tspan></text>
<text class="l" y="1009.00"><tspan x="291.70" letter-spacing="-0.600">Is</tspan> <tspan x="321.50" letter-spacing="0.180">normal</tspan> <tspan x="419.70" letter-spacing="-0.080">distn?</tspan> <tspan x="513.50" letter-spacing="-0.400">No</tspan></text>
<path class="b" d="M141 830 h997 v620 h-997 z M142 831 v617 h994 v-617 z" fill-rule="evenodd"/>
<path class="b" d="M163 1450 h1 v7 h-1z M321 1450 h1 v7 h-1z M480 1450 h1 v7 h-1z M639 1450 h1 v7 h-1z M797 1450 h1 v7 h-1z M956 1450 h1 v7 h-1z M1115 1450 h1 v7 h-1z M133 1425 h8 v1 h-8z M133 1291 h8 v1 h-8z M133 1157 h8 v1 h-8z M133 1023 h8 v1 h-8z M133 889 h8 v1 h-8z"/>
<text class="k" text-anchor="middle" x="162.7" y="1481.75">-3</text>
<text class="k" text-anchor="middle" x="320.7" y="1481.75">-2</text>
<text class="k" text-anchor="middle" x="479.7" y="1481.75">-1</text>
<text class="k" text-anchor="middle" x="638.7" y="1481.75">0</text>
<text class="k" text-anchor="middle" x="796.7" y="1481.75">1</text>
<text class="k" text-anchor="middle" x="955.7" y="1481.75">2</text>
<text class="k" text-anchor="middle" x="1114.7" y="1481.75">3</text>
<text class="k" text-anchor="end" x="127.0" y="1435.0">0</text>
<text class="k" text-anchor="end" x="127.0" y="1301.0">50000</text>
<text class="k" text-anchor="end" x="127.0" y="1167.0">100000</text>
<text class="k" text-anchor="end" x="127.0" y="1033.0">150000</text>
<text class="k" text-anchor="end" x="127.0" y="899.0">200000</text>
<text class="t" y="809.20"><tspan x="140.00" letter-spacing="-0.712">Normality</tspan> <tspan x="294.40" letter-spacing="0.567">Test</tspan> <tspan x="370.50" letter-spacing="-1.300">on</tspan> <tspan x="418.90" letter-spacing="-0.125">Total</tspan> <tspan x="502.90" letter-spacing="-0.025">Wages</tspan> <tspan x="621.60" letter-spacing="-0.700">for</tspan> <tspan x="670.70" letter-spacing="-0.750">Bachelors</tspan></text>
<text class="a" y="1516.00"><tspan x="464.50" letter-spacing="-0.262">educationLevel</tspan> <tspan x="666.20" letter-spacing="0.000">:</tspan> <tspan x="682.50" letter-spacing="-0.094">Bachelors</tspan></text>
<text class="a" text-anchor="middle" letter-spacing="0.185" transform="translate(36.6 1139.8) rotate(-90)">Total Wages($)</text>
</g>
<g>
<path class="g" d="M1297.5 830 V1450 M1380.5 830 V1450 M1462.5 830 V1450 M1544.5 830 V1450 M1626.5 830 V1450 M1709.5 830 V1450 M1791.5 830 V1450 M1873.5 830 V1450 M1955.5 830 V1450 M2037.5 830 V1450 M2120.5 830 V1450 M2202.5 830 V1450 M2284.5 830 V1450 M1293 1395.5 H2290 M1293 1331.5 H2290 M1293 1268.5 H2290 M1293 1205.5 H2290 M1293 1141.5 H2290 M1293 1078.5 H2290 M1293 1014.5 H2290 M1293 951.5 H2290 M1293 888.5 H2290"/>
<g class="p">
<use href="#o" x="1333" y="1329"/>
<use href="#o" x="1396" y="1323"/>
<use href="#o" x="1428" y="1320"/>
<use href="#o" x="1450" y="1318"/>
<use href="#o" x="1467" y="1315"/>
<use href="#o" x="1482" y="1314"/>
<use href="#o" x="1494" y="1313"/>
<use href="#o" x="1505" y="1312"/>
<use href="#o" x="1515" y="1312"/>
<use href="#o" x="1524" y="1305"/>
<use href="#o" x="1532" y="1299"/>
<use href="#o" x="1540" y="1293"/>
<use href="#o" x="1547" y="1292"/>
<use href="#o" x="1554" y="1289"/>
<use href="#o" x="1560" y="1285"/>
<use href="#o" x="1566" y="1285"/>
<use href="#o" x="1572" y="1282"/>
<use href="#o" x="1578" y="1282"/>
<use href="#o" x="1583" y="1280"/>
<use href="#o" x="1588" y="1279"/>
<use href="#o" x="1593" y="1278"/>
<use href="#o" x="1598" y="1278"/>
<use href="#o" x="1602" y="1276"/>
<use href="#o" x="1607" y="1275"/>
<use href="#o" x="1611" y="1274"/>
<use href="#o" x="1615" y="1273"/>
<use href="#o" x="1619" y="1273"/>
<use href="#o" x="1623" y="1272"/>
<use href="#o" x="1627" y="1272"/>
<use href="#o" x="1631" y="1271"/>
<use href="#o" x="1635" y="1269"/>
<use href="#o" x="1638" y="1268"/>
<use href="#o" x="1642" y="1267"/>
<use href="#o" x="1645" y="1266"/>
<use href="#o" x="1649" y="1266"/>
<use href="#o" x="1652" y="1265"/>
<use href="#o" x="1656" y="1264"/>
<use href="#o" x="1659" y="1264"/>
<use href="#o" x="1662" y="1264"/>
<use href="#o" x="1665" y="1264"/>
<use href="#o" x="1668" y="1263"/>
<use href="#o" x="1672" y="1262"/>
<use href="#o" x="1675" y="1260"/>
<use href="#o" x="1678" y="1259"/>
<use href="#o" x="1681" y="1259"/>
<use href="#o" x="1684" y="1258"/>
<use href="#o" x="1687" y="1258"/>
<use href="#o" x="1689" y="1257"/>
<use href="#o" x="1692" y="1256"/>
<use href="#o" x="1695" y="1255"/>
<use href="#o" x="1698" y="1254"/>
<use href="#o" x="1701" y="1253"/>
<use href="#o" x="1703" y="1252"/>
<use href="#o" x="1706" y="1250"/>
<use href="#o" x="1709" y="1248"/>
<use href="#o" x="1712" y="1247"/>
<use href="#o" x="1714" y="1246"/>
<use href="#o" x="1717" y="1245"/>
<use href="#o" x="1720" y="1244"/>
<use href="#o" x="1722" y="1243"/>
<use href="#o" x="1725" y="1242"/>
<use href="#o" x="1727" y="1240"/>
<use href="#o" x="1730" y="1239"/>
<use href="#o" x="1733" y="1237"/>
<use href="#o" x="1735" y="1236"/>
<use href="#o" x="1738" y="1235"/>
<use href="#o" x="1740" y="1234"/>
<use href="#o" x="1743" y="1233"/>
<use href="#o" x="1745" y="1232"/>
<use href="#o" x="1748" y="1231"/>
<use href="#o" x="1750" y="1230"/>
<use href="#o" x="1753" y="1230"/>
<use href="#o" x="1755" y="1229"/>
<use href="#o" x="1758" y="1228"/>
<use href="#o" x="1760" y="1228"/>
<use href="#o" x="1762" y="1228"/>
<use href="#o" x="1765" y="1227"/>
<use href="#o" x="1767" y="1227"/>
<use href="#o" x="1770" y="1227"/>
<use href="#o" x="1772" y="1226"/>
<use href="#o" x="1775" y="1226"/>
<use href="#o" x="1777" y="1225"/>
<use href="#o" x="1780" y="1224"/>
<use href="#o" x="1782" y="1224"/>
<use href="#o" x="1784" y="1222"/>
<use href="#o" x="1787" y="1220"/>
<use href="#o" x="1789" y="1217"/>
<use href="#o" x="1792" y="1217"/>
<use href="#o" x="1794" y="1216"/>
<use href="#o" x="1796" y="1215"/>
<use href="#o" x="1799" y="1215"/>
<use href="#o" x="1801" y="1214"/>
<use href="#o" x="1804" y="1213"/>
<use href="#o" x="1806" y="1211"/>
<use href="#o" x="1809" y="1210"/>
<use href="#o" x="1811" y="1209"/>
<use href="#o" x="1814" y="1208"/>
<use href="#o" x="1816" y="1208"/>
<use href="#o" x="1819" y="1207"/>
<use href="#o" x="1821" y="1207"/>
<use href="#o" x="1823" y="1205"/>
<use href="#o" x="1826" y="1204"/>
<use href="#o" x="1828" y="1202"/>
<use href="#o" x="1831" y="1202"/>
<use href="#o" x="1834" y="1201"/>
<use href="#o" x="1836" y="1201"/>
<use href="#o" x="1839" y="1200"/>
<use href="#o" x="1841" y="1200"/>
<use href="#o" x="1844" y="1199"/>
<use href="#o" x="1846" y="1198"/>
<use href="#o" x="1849" y="1197"/>
<use href="#o" x="1852" y="1196"/>
<use href="#o" x="1854" y="1194"/>
<use href="#o" x="1857" y="1193"/>
<use href="#o" x="1860" y="1191"/>
<use href="#o" x="1862" y="1190"/>
<use href="#o" x="1865" y="1190"/>
<use href="#o" x="1868" y="1188"/>
<use href="#o" x="1870" y="1180"/>
<use href="#o" x="1873" y="1178"/>
<use href="#o" x="1876" y="1177"/>
<use href="#o" x="1879" y="1177"/>
<use href="#o" x="1882" y="1175"/>
<use href="#o" x="1885" y="1172"/>
<use href="#o" x="1888" y="1168"/>
<use href="#o" x="1890" y="1164"/>
<use href="#o" x="1893" y="1161"/>
<use href="#o" x="1896" y="1159"/>
<use href="#o" x="1900" y="1157"/>
<use href="#o" x="1903" y="1157"/>
<use href="#o" x="1906" y="1156"/>
<use href="#o" x="1909" y="1154"/>
<use href="#o" x="1912" y="1151"/>
<use href="#o" x="1916" y="1146"/>
<use href="#o" x="1919" y="1142"/>
<use href="#o" x="1922" y="1141"/>
<use href="#o" x="1926" y="1139"/>
<use href="#o" x="1929" y="1138"/>
<use href="#o" x="1933" y="1136"/>
<use href="#o" x="1936" y="1135"/>
<use href="#o" x="1940" y="1132"/>
<use href="#o" x="1944" y="1130"/>
<use href="#o" x="1948" y="1127"/>
<use href="#o" x="1952" y="1125"/>
<use href="#o" x="1956" y="1109"/>
<use href="#o" x="1960" y="1102"/>
<use href="#o" x="1965" y="1099"/>
<use href="#o" x="1969" y="1097"/>
<use href="#o" x="1974" y="1092"/>
<use href="#o" x="1979" y="1089"/>
<use href="#o" x="1983" y="1087"/>
<use href="#o" x="1988" y="1080"/>
<use href="#o" x="1994" y="1080"/>
<use href="#o" x="1999" y="1075"/>
<use href="#o" x="2005" y="1064"/>
<use href="#o" x="2011" y="1058"/>
<use href="#o" x="2017" y="1044"/>
<use href="#o" x="2024" y="1042"/>
<use href="#o" x="2031" y="1041"/>
<use href="#o" x="2039" y="1040"/>
<use href="#o" x="2047" y="1001"/>
<use href="#o" x="2056" y="995"/>
<use href="#o" x="2066" y="985"/>
<use href="#o" x="2077" y="983"/>
<use href="#o" x="2089" y="959"/>
<use href="#o" x="2104" y="952"/>
<use href="#o" x="2121" y="948"/>
<use href="#o" x="2144" y="942"/>
<use href="#o" x="2176" y="935"/>
<use href="#o" x="2239" y="853"/>
</g>
<path class="ln" d="M1338.0 1421.0 L2245.0 1009.0"/>
<rect x="1308.5" y="893.5" width="401" height="126" rx="4.5" ry="4.5" fill="#fff" stroke="#000" stroke-width="1"/>
<text class="l" y="924.00"><tspan x="1318.90" letter-spacing="0.127">Shapiro-Wilk</tspan> <tspan x="1494.70" letter-spacing="-0.113">Normality</tspan> <tspan x="1627.10" letter-spacing="0.625">Test:</tspan></text>
<text class="l" y="965.90"><tspan x="1442.20" letter-spacing="-0.183">p-value</tspan> <tspan x="1545.30" letter-spacing="0.000">=</tspan> <tspan x="1578.60" letter-spacing="-0.429">7.29e-10</tspan></text>
<text class="l" y="1009.00"><tspan x="1440.70" letter-spacing="-0.600">Is</tspan> <tspan x="1470.50" letter-spacing="0.180">normal</tspan> <tspan x="1568.70" letter-spacing="-0.080">distn?</tspan> <tspan x="1662.50" letter-spacing="-0.400">No</tspan></text>
<path class="b" d="M1293 830 h997 v620 h-997 z M1294 831 v617 h994 v-617 z" fill-rule="evenodd"/>
<path class="b" d="M1297 1450 h1 v7 h-1z M1462 1450 h1 v7 h-1z M1626 1450 h1 v7 h-1z M1791 1450 h1 v7 h-1z M1955 1450 h1 v7 h-1z M2120 1450 h1 v7 h-1z M2284 1450 h1 v7 h-1z M1285 1395 h8 v1 h-8z M1285 1268 h8 v1 h-8z M1285 1141 h8 v1 h-8z M1285 1014 h8 v1 h-8z M1285 888 h8 v1 h-8z"/>
<text class="k" text-anchor="middle" x="1296.7" y="1481.75">-3</text>
<text class="k" text-anchor="middle" x="1461.7" y="1481.75">-2</text>
<text class="k" text-anchor="middle" x="1625.7" y="1481.75">-1</text>
<text class="k" text-anchor="middle" x="1790.7" y="1481.75">0</text>
<text class="k" text-anchor="middle" x="1954.7" y="1481.75">1</text>
<text class="k" text-anchor="middle" x="2119.7" y="1481.75">2</text>
<text class="k" text-anchor="middle" x="2283.7" y="1481.75">3</text>
<text class="k" text-anchor="end" x="1279.0" y="1405.0">0</text>
<text class="k" text-anchor="end" x="1279.0" y="1278.0">50000</text>
<text class="k" text-anchor="end" x="1279.0" y="1151.0">100000</text>
<text class="k" text-anchor="end" x="1279.0" y="1024.0">150000</text>
<text class="k" text-anchor="end" x="1279.0" y="898.0">200000</text>
<text class="t" y="809.20"><tspan x="1292.00" letter-spacing="-0.712">Normality</tspan> <tspan x="1446.40" letter-spacing="0.567">Test</tspan> <tspan x="1522.50" letter-spacing="-1.300">on</tspan> <tspan x="1570.90" letter-spacing="-0.125">Total</tspan> <tspan x="1654.90" letter-spacing="-0.025">Wages</tspan> <tspan x="1773.60" letter-spacing="-0.700">for</tspan> <tspan x="1824.70" letter-spacing="-1.100">Graduate</tspan></text>
<text class="a" y="1516.00"><tspan x="1621.00" letter-spacing="-0.262">educationLevel</tspan> <tspan x="1822.70" letter-spacing="0.000">:</tspan> <tspan x="1840.00" letter-spacing="-0.250">Graduate</tspan></text>
<text class="a" text-anchor="middle" letter-spacing="0.185" transform="translate(1188.6 1139.8) rotate(-90)">Total Wages($)</text>
</g>
</svg></body></html>
